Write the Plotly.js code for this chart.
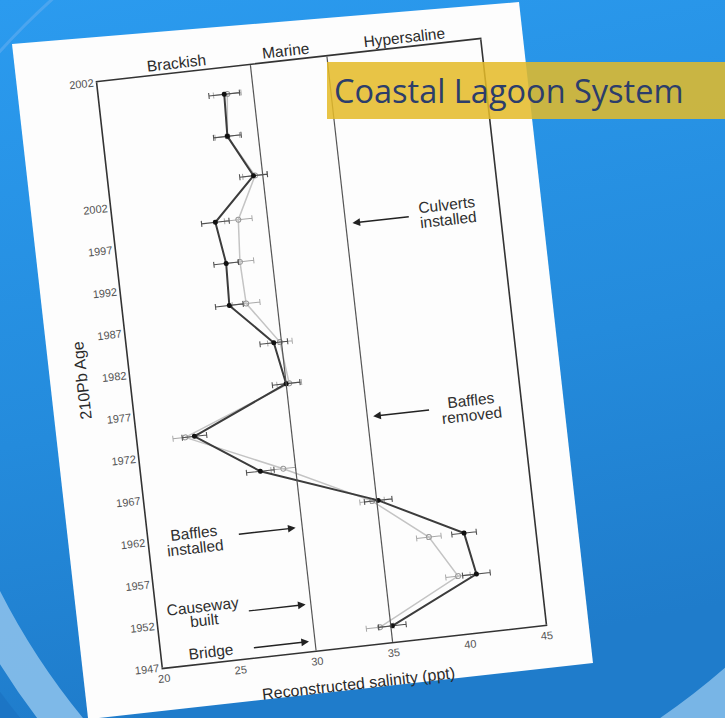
<!DOCTYPE html>
<html>
<head>
<meta charset="utf-8">
<script src="https://cdn.plot.ly/plotly-3.0.1.min.js"></script>
<style>
  html, body { margin:0; padding:0; width:725px; height:718px; overflow:hidden; }
  #bg { position:absolute; left:0; top:0; }
  #chart { position:absolute; left:38.6px; top:-1.2px; width:535px; height:724px;
           transform-origin: 282.5px 354.5px; transform: rotate(-6.4deg); }
  #chart svg, #chart svg * { shape-rendering: geometricPrecision !important; }
  #banner { position:absolute; left:327px; top:62px; width:398px; height:57px;
            background: rgba(228,186,40,0.86); box-sizing:border-box; padding-left:7px;
            font-family: "Open Sans", "Noto Sans", sans-serif; font-size:32.5px; color:#2c3d6b;
            line-height:57px; white-space:nowrap; }
</style>
</head>
<body>
<svg id="bg" width="725" height="718" xmlns="http://www.w3.org/2000/svg">
  <defs>
    <linearGradient id="g" x1="0" y1="0" x2="0.2" y2="1">
      <stop offset="0" stop-color="#2b9bef"/>
      <stop offset="0.6" stop-color="#248bdc"/>
      <stop offset="1" stop-color="#1f7ccb"/>
    </linearGradient>
  </defs>
  <rect x="0" y="0" width="725" height="718" fill="url(#g)"/>
  <circle cx="630" cy="270" r="725" fill="none" stroke="#8fc3ec" stroke-width="36" opacity="0.85"/>
  <circle cx="600" cy="250" r="765" fill="none" stroke="#1b70c0" stroke-width="40" opacity="0.6"/>
  <circle cx="520" cy="520" r="700" fill="none" stroke="#5aaaf0" stroke-width="3" opacity="0.7"/>
  <circle cx="250" cy="120" r="745" fill="none" stroke="#8fc3ec" stroke-width="40" opacity="0.8"/>
  <polygon points="12,44 519,2 593,663 99,718 88,718" fill="#fdfdfd"/>
</svg>
<div id="chart"></div>
<div id="banner">Coastal Lagoon System</div>
<script>
// ---- data ----
const ageYears = [2013.9, 2008.9, 2003.9, 1998.9, 1993.9, 1988.9, 1983.9, 1978.9, 1973.9, 1968.9, 1963.9, 1958.9, 1953.9, 1948.9];
const salinityDark = [28.1, 28.0, 29.4, 26.6, 27.0, 26.9, 29.5, 30.0, 23.7, 27.7, 35.1, 40.4, 40.9, 35.1];
const errDark      = [1.0, 0.9, 0.9, 0.9, 0.8, 0.9, 0.9, 0.9, 0.8, 0.9, 0.9, 0.8, 0.9, 0.9];
const salinityLight = [28.3, 28.0, 29.5, 28.1, 27.9, 28.0, 29.9, 30.2, 23.1, 29.2, 34.7, 38.1, 39.7, 34.3];
const errLight      = [0.9, 0.8, 0.8, 0.9, 0.9, 0.9, 0.8, 0.8, 0.8, 0.8, 0.8, 0.8, 0.8, 0.9];

const xTickVals = [20, 25, 30, 35, 40, 45];
const yTickVals = [1947, 1952, 1957, 1962, 1967, 1972, 1977, 1982, 1987, 1992, 1997, 2002, 2017];
const yTickText = ['1947', '1952', '1957', '1962', '1967', '1972', '1977', '1982', '1987', '1992', '1997', '2002', '2002'];

const zoneBounds = [30, 35];
const zoneNames = ['Brackish', 'Marine', 'Hypersaline'];
const zoneCenters = [25.2, 32.4, 40.1];

const eventLines = [['Culverts', 'installed'], ['Baffles', 'removed'], ['Baffles', 'installed'], ['Causeway', 'built'], ['Bridge']];
const eventYears = [1997.0, 1973.9, 1961.75, 1952.56, 1948.15];
const eventTextX = [41.64, 41.78, 22.96, 22.99, 23.19];
const eventTextY = [1997.0, 1973.6, 1961.6, 1952.9, 1948.2];
const arrowTailX = [39.22, 39.13, 25.76, 25.85, 25.91];
const arrowHeadX = [35.44, 35.38, 29.57, 29.66, 29.61];

const FONT = 'Liberation Sans, Arial, sans-serif';

const traces = [
  {
    x: salinityLight, y: ageYears, type: 'scatter', mode: 'lines+markers',
    line: { color: '#c4c4c4', width: 1.5 },
    marker: { symbol: 'circle-open', size: 5, color: '#9a9a9a', line: { width: 1 } },
    error_x: { type: 'data', array: errLight, color: '#a8a8a8', thickness: 1, width: 3 },
    hoverinfo: 'skip', showlegend: false
  },
  {
    x: salinityDark, y: ageYears, type: 'scatter', mode: 'lines+markers',
    line: { color: '#3c3c3c', width: 2 },
    marker: { symbol: 'circle', size: 5, color: '#111' },
    error_x: { type: 'data', array: errDark, color: '#505050', thickness: 1.1, width: 3 },
    hoverinfo: 'skip', showlegend: false
  }
];

const shapes = zoneBounds.map(b => ({
  type: 'line', xref: 'x', yref: 'paper', x0: b, x1: b, y0: 0, y1: 1,
  line: { color: '#555', width: 1.2 }
}));

const annotations = [];
zoneNames.forEach((n, i) => annotations.push({
  text: n, x: zoneCenters[i], y: 1, xref: 'x', yref: 'paper', yanchor: 'middle', yshift: 11,
  showarrow: false, font: { family: FONT, size: 15.5, color: '#2a2a2a' }
}));
eventLines.forEach((lines, i) => {
  const n = lines.length;
  lines.forEach((t, j) => annotations.push({
    text: t, x: eventTextX[i], y: eventTextY[i], xref: 'x', yref: 'y',
    yshift: (n - 1) * 7.3 - j * 14.6, showarrow: false,
    font: { family: FONT, size: 15.5, color: '#2e2e2e' }
  }));
  annotations.push({
    text: '', x: arrowHeadX[i], y: eventYears[i], ax: arrowTailX[i], ay: eventYears[i],
    xref: 'x', yref: 'y', axref: 'x', ayref: 'y', showarrow: true,
    arrowhead: 2, arrowsize: 1.1, arrowwidth: 1.4, arrowcolor: '#222'
  });
});

const layout = {
  width: 535, height: 724,
  margin: { l: 90, r: 60, t: 60, b: 75, pad: 0 },
  paper_bgcolor: 'rgba(0,0,0,0)', plot_bgcolor: 'rgba(0,0,0,0)',
  font: { family: FONT, color: '#333' },
  xaxis: {
    range: [20, 45], tickvals: xTickVals, ticks: '', showgrid: false, zeroline: false,
    showline: true, linecolor: '#333', linewidth: 1.6, mirror: true, automargin: false,
    tickfont: { family: FONT, size: 11, color: '#555' },
    title: { text: 'Reconstructed salinity (ppt)', standoff: 16, font: { family: FONT, size: 16, color: '#2a2a2a' } }
  },
  yaxis: {
    range: [1947, 2017], tickvals: yTickVals, ticktext: yTickText, ticks: '', showgrid: false, zeroline: false,
    showline: true, linecolor: '#333', linewidth: 1.6, mirror: true, automargin: false,
    tickfont: { family: FONT, size: 11, color: '#555' },
    title: { text: '210Pb Age', standoff: 10, font: { family: FONT, size: 16, color: '#2a2a2a' } }
  },
  shapes: shapes,
  annotations: annotations
};

Plotly.newPlot('chart', traces, layout, { staticPlot: true, displayModeBar: false });
</script>
</body>
</html>
